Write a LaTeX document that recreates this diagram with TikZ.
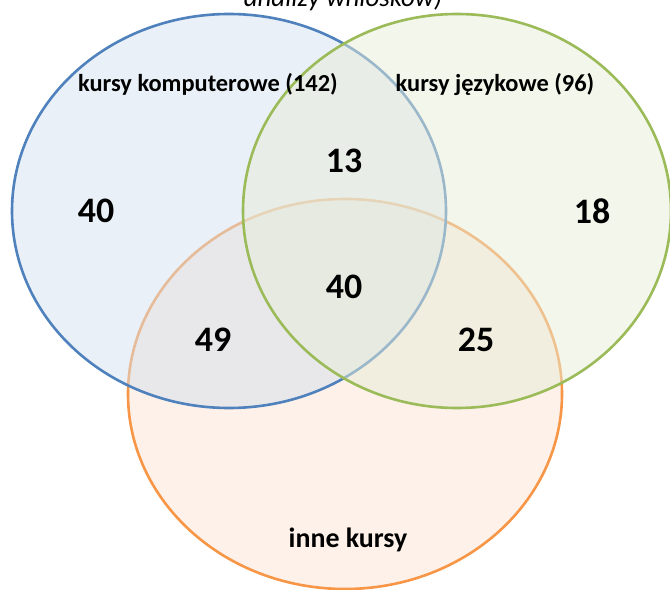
\documentclass[tikz,border=0pt]{standalone}
\usepackage{fontspec}
\setmainfont{Carlito}
\begin{document}
\begin{tikzpicture}[x=1bp,y=-1bp,
  setshape/.style={line width=2.6bp, fill opacity=0.5},
  lbl/.style={font=\fontsize{24.5}{26}\selectfont\bfseries, inner sep=0, anchor=base},
  num/.style={font=\fontsize{36}{40}\selectfont\bfseries, inner sep=0},
]
\useasboundingbox (0,0) rectangle (670,590);
\definecolor{bstroke}{HTML}{4F81BD}
\definecolor{gstroke}{HTML}{9BBB59}
\definecolor{ostroke}{HTML}{F79646}
\definecolor{bfill}{RGB}{213,225,239}
\definecolor{gfill}{RGB}{231,237,215}
\definecolor{ofill}{RGB}{251,227,211}
% shapes: orange first, then blue, then green
\path[setshape, draw=ostroke, fill=ofill] (345,394) ellipse [x radius=217, y radius=195];
\path[setshape, draw=bstroke, fill=bfill] (229,211) ellipse [x radius=217, y radius=197];
\path[setshape, draw=gstroke, fill=gfill] (457,211) ellipse [x radius=214, y radius=197];
% title fragment (cut off at the top edge, as in the reference)
\node[font=\fontsize{27}{29}\selectfont\itshape, inner sep=0, anchor=base] (title) at (343,7) {analizy wniosków)};
% labels
\node[lbl] (lk) at (208,92) {kursy komputerowe (142)};
\node[lbl] (lj) at (495,92) {kursy językowe (96)};
\node[lbl, font=\fontsize{28}{30}\selectfont\bfseries] (li) at (348,547) {inne kursy};
% numbers
\node[num] (n1) at (96,211) {40};
\node[num] (n2) at (344,161) {13};
\node[num] (n3) at (592,211) {18};
\node[num] (n4) at (344,287) {40};
\node[num] (n5) at (213,340) {49};
\node[num] (n6) at (476,340) {25};
\end{tikzpicture}
\end{document}
